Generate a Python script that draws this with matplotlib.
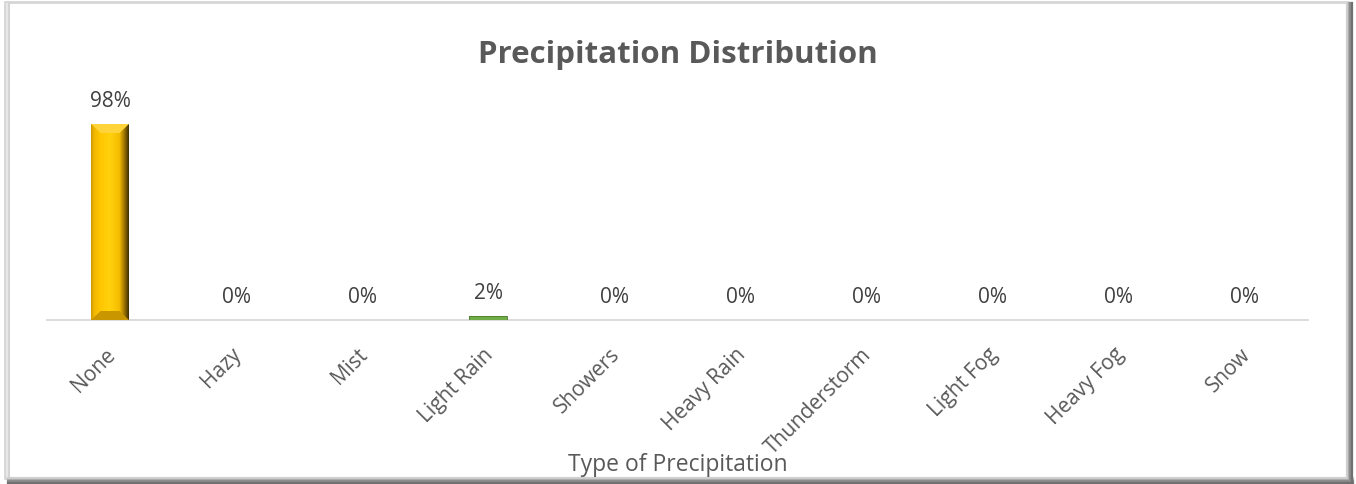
import matplotlib.pyplot as plt
import numpy as np
from matplotlib.patches import Rectangle, Polygon
import matplotlib.transforms as mtransforms

# Data
categories = ['None', 'Hazy', 'Mist', 'Light Rain', 'Showers', 'Heavy Rain',
              'Thunderstorm', 'Light Fog', 'Heavy Fog', 'Snow']
values = [98, 0, 0, 2, 0, 0, 0, 0, 0, 0]
bar_colors = ['#FFC000', '#FFC000', '#FFC000', '#70AD47', '#FFC000',
              '#FFC000', '#FFC000', '#FFC000', '#FFC000', '#FFC000']

plt.rcParams['font.family'] = ['Open Sans', 'DejaVu Sans']
txt = '#595959'

W, H = 1356, 485
fig = plt.figure(figsize=(W / 100, H / 100), dpi=100)
fig.patch.set_facecolor('white')

# outer frame with soft shadow (bottom / right)
fig.add_artist(Rectangle((5 / W, 6 / H), (W - 14) / W, (H - 9) / H,
                         transform=fig.transFigure, fill=False,
                         edgecolor='#D6D6D6', linewidth=2.0))
for k, c in enumerate(['#D0D0D0', '#B0B0B0', '#8C8C8C', '#707070']):
    fig.add_artist(plt.Line2D([(W - 9 + k * 1.6) / W] * 2, [3 / H, (H - 4) / H],
                              transform=fig.transFigure, color=c, linewidth=1.6))
    fig.add_artist(plt.Line2D([8 / W, (W - 3) / W], [(6 - k * 1.6) / H] * 2,
                              transform=fig.transFigure, color=c, linewidth=1.6))
for k, c in enumerate(['#E8E8E8', '#D4D4D4']):
    fig.add_artist(plt.Line2D([(7 + k * 1.5) / W] * 2, [8 / H, (H - 5) / H],
                              transform=fig.transFigure, color=c, linewidth=1.5))

left, right = 47, 1308
bottom, top = 321, 125
ax = fig.add_axes([left / W, (H - bottom) / H, (right - left) / W, (bottom - top) / H])
ax.set_xlim(-0.5, len(categories) - 0.5)
ax.set_ylim(0, 98)
ax.set_facecolor('none')
for s in ['top', 'right', 'left']:
    ax.spines[s].set_visible(False)
ax.spines['bottom'].set_color('#D9D9D9')
ax.spines['bottom'].set_linewidth(1.3)
ax.set_yticks([])

x = np.arange(len(categories))
bw = 0.3
bars = ax.bar(x, values, width=bw, color=bar_colors, edgecolor='none', zorder=2)

# bevelled gold look on the tall bar
for b, v in zip(bars, values):
    if v <= 0:
        continue
    x0, y0 = b.get_x(), b.get_y()
    w, h = b.get_width(), b.get_height()
    if v > 10:
        stops = [0, 0.08, 0.25, 0.5, 0.75, 0.88, 1.0]
        cols = np.array([[0.80, 0.60, 0.00], [0.95, 0.72, 0.00], [1.00, 0.78, 0.00],
                         [1.00, 0.82, 0.05], [0.96, 0.74, 0.00], [0.62, 0.46, 0.00],
                         [0.25, 0.18, 0.00]])
        g = np.linspace(0, 1, 120)
        img = np.stack([np.interp(g, stops, cols[:, i]) for i in range(3)], axis=-1)[None]
        im = ax.imshow(img, extent=[x0, x0 + w, y0, y0 + h], aspect='auto',
                       zorder=3, interpolation='bilinear')
        im.set_clip_path(b)
        dx = w * 0.25
        dy = 9 * 98 / 196
        ax.add_patch(Polygon([[x0, y0 + h], [x0 + w, y0 + h], [x0 + w - dx, y0 + h - dy],
                              [x0 + dx, y0 + h - dy]], closed=True,
                             facecolor='#FFD43A', edgecolor='none', zorder=4))
        ax.add_patch(Polygon([[x0, y0], [x0 + w, y0], [x0 + w - dx, y0 + dy],
                              [x0 + dx, y0 + dy]], closed=True,
                             facecolor='#C99600', edgecolor='none', zorder=4))
        ax.set_xlim(-0.5, len(categories) - 0.5)
        ax.set_ylim(0, 98)
    else:
        ax.bar(x0 + w / 2, v, width=w, color=b.get_facecolor(), edgecolor='#4E7A30',
               linewidth=0.6, zorder=3)

for xi, v in zip(x, values):
    ax.annotate(f'{v}%', (xi, v), xytext=(0, 17), textcoords='offset points',
                ha='center', va='center', fontsize=15, color='#404040',
                annotation_clip=False)

ax.set_xticks(x)
ax.set_xticklabels(categories, rotation=45, ha='right', rotation_mode='anchor',
                   fontsize=15, color=txt)
ax.tick_params(axis='x', length=0, pad=22)
shift = mtransforms.ScaledTranslation(2 / 100, 0, fig.dpi_scale_trans)
for lab in ax.get_xticklabels():
    lab.set_va('center')
    lab.set_transform(lab.get_transform() + shift)

fig.text(0.5, 1 - 55 / H, 'Precipitation Distribution', ha='center', va='center',
         fontsize=22.5, fontweight='bold', color=txt)
fig.text(0.5, 1 - 465 / H, 'Type of Precipitation', ha='center', va='center',
         fontsize=16.5, color=txt)

fig.savefig('out.png', dpi=100)
